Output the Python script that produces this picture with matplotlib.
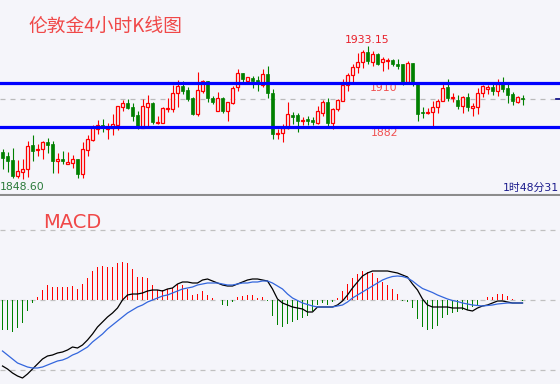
import numpy as np
import matplotlib
matplotlib.use("Agg")
import matplotlib.pyplot as plt
import matplotlib.transforms as mtransforms

plt.rcParams['font.family'] = ['DejaVu Sans', 'Noto Sans CJK SC']

# 4-hour candles, London gold
open_ = [1865.6, 1863.3, 1860.7, 1850.8, 1852.9, 1854.8, 1870.1, 1866.9, 1867.6, 1872.2,
         1870.9, 1860.4, 1861.4, 1858.0, 1858.6, 1861.4, 1851.6, 1866.9, 1873.5, 1880.3,
         1883.0, 1880.7, 1881.3, 1883.0, 1894.7, 1897.2, 1894.5, 1889.4, 1880.9, 1894.7,
         1896.8, 1884.5, 1884.5, 1893.2, 1893.0, 1903.2, 1907.8, 1905.3, 1900.4, 1890.0,
         1904.8, 1911.0, 1900.4, 1892.1, 1900.0, 1892.1, 1897.2, 1907.0, 1915.9, 1911.2,
         1913.1, 1911.7, 1908.5, 1915.5, 1903.6, 1877.3, 1877.7, 1881.3, 1889.4, 1889.4,
         1885.8, 1886.8, 1886.2, 1884.5, 1890.8, 1897.5, 1884.5, 1893.0, 1898.5, 1908.5,
         1914.8, 1920.1, 1922.9, 1929.3, 1922.9, 1928.2, 1922.9, 1923.7, 1924.4, 1921.8,
         1921.6, 1910.6, 1922.7, 1908.9, 1891.5, 1890.5, 1891.1, 1894.3, 1898.5, 1907.0,
         1900.2, 1898.9, 1895.3, 1900.7, 1894.0, 1894.7, 1903.2, 1906.1, 1907.0, 1904.8,
         1909.1, 1906.4, 1902.7, 1897.5, 1900.0]
high = [1867.7, 1866.0, 1868.2, 1860.7, 1861.4, 1872.8, 1876.6, 1870.7, 1872.8, 1874.5,
        1873.0, 1865.0, 1866.7, 1865.6, 1863.9, 1861.4, 1872.4, 1876.6, 1883.0, 1886.2,
        1886.8, 1884.5, 1890.0, 1895.1, 1898.9, 1899.4, 1897.2, 1891.9, 1899.4, 1902.1,
        1897.5, 1888.7, 1894.7, 1900.0, 1908.5, 1911.7, 1911.0, 1907.4, 1901.0, 1916.9,
        1911.7, 1911.0, 1901.7, 1903.8, 1901.0, 1897.8, 1907.8, 1918.6, 1915.9, 1913.4,
        1914.2, 1914.2, 1918.6, 1920.6, 1905.7, 1880.5, 1883.5, 1897.8, 1891.5, 1890.5,
        1888.3, 1888.7, 1888.3, 1895.1, 1898.9, 1900.0, 1894.0, 1899.4, 1912.1, 1916.3,
        1921.6, 1928.6, 1930.7, 1933.15, 1930.3, 1928.6, 1926.1, 1925.5, 1924.8, 1924.8,
        1921.6, 1923.9, 1922.7, 1909.5, 1894.7, 1893.7, 1898.5, 1899.4, 1909.9, 1912.1,
        1903.4, 1902.1, 1901.5, 1903.6, 1897.2, 1906.4, 1908.5, 1908.5, 1909.1, 1912.3,
        1913.4, 1909.1, 1903.8, 1901.5, 1902.1]
low = [1855.0, 1853.3, 1849.1, 1849.0, 1848.6, 1850.1, 1860.3, 1863.5, 1861.2, 1865.4,
       1852.3, 1852.3, 1858.2, 1858.0, 1855.8, 1849.0, 1849.2, 1863.5, 1872.8, 1877.3,
       1878.8, 1874.1, 1876.6, 1879.8, 1892.1, 1893.0, 1885.8, 1880.5, 1880.9, 1880.9,
       1883.5, 1883.5, 1884.1, 1891.1, 1891.5, 1894.7, 1902.9, 1898.3, 1889.4, 1888.9,
       1903.6, 1897.5, 1896.4, 1892.1, 1890.5, 1885.8, 1896.2, 1904.8, 1909.9, 1910.2,
       1906.8, 1904.8, 1907.4, 1900.0, 1873.9, 1873.9, 1872.4, 1880.5, 1883.5, 1878.4,
       1883.0, 1883.0, 1883.0, 1883.7, 1888.9, 1882.4, 1880.5, 1892.1, 1898.5, 1904.8,
       1909.1, 1915.9, 1919.3, 1921.8, 1920.8, 1921.2, 1917.6, 1918.6, 1920.8, 1918.6,
       1908.5, 1909.9, 1908.0, 1885.8, 1887.7, 1889.8, 1881.9, 1890.5, 1898.5, 1898.3,
       1897.6, 1893.2, 1890.8, 1892.1, 1888.9, 1890.0, 1901.0, 1902.7, 1902.1, 1901.7,
       1903.8, 1897.2, 1895.7, 1896.8, 1895.7]
close = [1862.2, 1860.3, 1850.8, 1853.7, 1855.0, 1869.8, 1866.7, 1867.7, 1872.0, 1870.5,
         1860.1, 1861.4, 1860.3, 1859.5, 1861.2, 1851.6, 1867.6, 1873.9, 1881.6, 1883.0,
         1880.9, 1881.3, 1883.5, 1895.1, 1896.8, 1893.7, 1888.7, 1881.9, 1895.1, 1896.8,
         1884.7, 1885.1, 1893.7, 1893.7, 1903.2, 1907.8, 1904.8, 1899.6, 1890.0, 1905.3,
         1911.0, 1900.4, 1897.8, 1900.0, 1892.1, 1897.5, 1906.4, 1915.9, 1912.1, 1913.4,
         1911.2, 1908.9, 1915.3, 1903.2, 1877.1, 1877.7, 1880.9, 1889.8, 1888.3, 1885.8,
         1886.2, 1885.6, 1884.7, 1891.9, 1897.5, 1884.5, 1893.2, 1898.9, 1908.5, 1914.8,
         1919.7, 1922.9, 1929.3, 1923.9, 1928.2, 1921.8, 1924.8, 1924.4, 1921.6, 1920.8,
         1910.6, 1922.3, 1908.9, 1890.0, 1890.5, 1891.1, 1894.3, 1898.5, 1906.8, 1900.4,
         1900.8, 1895.3, 1900.7, 1894.3, 1895.1, 1903.2, 1907.8, 1907.0, 1904.8, 1909.1,
         1905.9, 1902.1, 1898.5, 1900.7, 1899.4]

# MACD panel
dif = [-6.6, -6.9, -7.3, -7.6, -7.8, -7.4, -6.9, -6.4, -5.9, -5.6,
       -5.5, -5.3, -5.2, -5.0, -4.7, -4.8, -4.5, -4.0, -3.4, -2.7,
       -2.2, -1.7, -1.3, -0.8, 0.0, 0.5, 0.6, 0.6, 0.7, 0.9,
       1.0, 1.0, 0.9, 1.1, 1.2, 1.6, 1.8, 1.8, 1.7, 1.7,
       2.0, 2.1, 1.9, 1.7, 1.5, 1.4, 1.4, 1.6, 1.8, 2.0,
       2.1, 2.1, 2.0, 1.9, 1.1, 0.1, -0.3, -0.5, -0.7, -0.8,
       -0.9, -1.2, -1.2, -0.7, -0.7, -0.7, -0.7, -0.5, -0.1, 0.5,
       1.2, 1.8, 2.4, 2.7, 2.9, 2.9, 2.9, 2.9, 2.8, 2.7,
       2.5, 2.3, 1.6, 1.0, 0.1, -0.5, -0.7, -0.7, -0.7, -0.7,
       -0.8, -0.8, -0.8, -1.0, -1.1, -0.8, -0.6, -0.5, -0.3, -0.1,
       -0.1, -0.2, -0.3, -0.3, -0.3]
dea = [-5.1, -5.5, -5.9, -6.3, -6.5, -6.7, -6.8, -6.8, -6.7, -6.5,
       -6.3, -6.1, -6.0, -5.8, -5.5, -5.3, -5.0, -4.7, -4.2, -3.8,
       -3.4, -2.9, -2.5, -2.1, -1.7, -1.3, -1.0, -0.7, -0.5, -0.2,
       0.0, 0.2, 0.4, 0.5, 0.7, 0.9, 1.1, 1.2, 1.3, 1.5,
       1.6, 1.7, 1.7, 1.7, 1.6, 1.5, 1.5, 1.6, 1.7, 1.7,
       1.8, 1.8, 1.9, 1.9, 1.7, 1.4, 1.1, 0.6, 0.2, -0.05,
       -0.3, -0.45, -0.6, -0.7, -0.7, -0.7, -0.7, -0.6, -0.5, -0.2,
       0.2, 0.5, 0.8, 1.1, 1.4, 1.7, 2.0, 2.2, 2.35, 2.4,
       2.35, 2.2, 1.9, 1.5, 1.15, 0.95, 0.75, 0.5, 0.3, 0.1,
       -0.05, -0.15, -0.3, -0.4, -0.5, -0.55, -0.6, -0.55, -0.5, -0.4,
       -0.35, -0.3, -0.3, -0.3, -0.3]
hist = [-3.0, -3.0, -3.2, -2.8, -2.3, -1.1, -0.3, 0.3, 1.0, 1.5,
        1.3, 1.3, 1.3, 1.3, 1.4, 1.1, 1.6, 2.2, 2.9, 3.3,
        3.4, 3.3, 3.3, 3.7, 3.8, 3.7, 3.1, 2.3, 2.3, 2.2,
        1.5, 1.0, 1.0, 1.1, 1.2, 1.6, 1.5, 1.1, 0.5, 0.6,
        0.9, 0.5, 0.2, 0.05, -0.5, -0.6, -0.2, 0.3, 0.4, 0.5,
        0.5, 0.2, 0.3, -0.05, -1.6, -2.5, -2.7, -2.4, -2.2, -2.0,
        -1.8, -1.6, -1.1, -0.5, -0.3, -0.5, -0.2, 0.2, 0.9, 1.6,
        2.2, 2.6, 2.9, 2.8, 2.7, 2.2, 1.8, 1.5, 1.1, 0.6,
        -0.1, -0.2, -0.8, -1.9, -2.7, -3.0, -2.9, -2.6, -1.8, -1.5,
        -1.3, -1.2, -1.0, -1.0, -0.7, -0.5, 0.05, 0.3, 0.3, 0.6,
        0.6, 0.4, 0.1, 0.05, -0.07]

support = 1882
resist = 1910
top_label = "1933.15"
low_label = "1848.60"

bg = '#f5f5fa'
red = '#ff0000'
green = '#008000'

fig = plt.figure(figsize=(5.6, 3.84), dpi=100, facecolor=bg)
ax = fig.add_axes([0, 1 - 195 / 384, 1, 195 / 384], facecolor=bg)
ax2 = fig.add_axes([0, 0, 1, 188 / 384], facecolor=bg)

x = np.arange(len(close))
o = np.array(open_)
c = np.array(close)
up = c >= o

# candles
ax.vlines(x[up], np.array(low)[up], np.array(high)[up], color=red, lw=0.8, zorder=2)
ax.vlines(x[~up], np.array(low)[~up], np.array(high)[~up], color=green, lw=0.8, zorder=2)
body_h = np.maximum(np.abs(c - o), 0.5)
body_b = np.minimum(o, c)
ax.bar(x[up], body_h[up], bottom=body_b[up], width=0.6, facecolor=bg,
       edgecolor=red, linewidth=0.9, zorder=3)
ax.bar(x[~up], body_h[~up], bottom=body_b[~up], width=0.7, facecolor=green,
       edgecolor=green, linewidth=0.5, zorder=3)

ax.axhline(resist, color='#0000ff', lw=2.3, zorder=4)
ax.axhline(support, color='#0000ff', lw=2.3, zorder=4)
ax.axhline(close[-1], color='#bbbbbb', lw=0.9, ls=(0, (4, 4)), zorder=1)
trans = mtransforms.blended_transform_factory(ax.transAxes, ax.transData)
ax.plot([0.993, 1.0], [close[-1], close[-1]], color='#000080', lw=1.2, transform=trans)

ax.set_xlim(-0.5, 111.5)
ax.set_ylim(1838.47, 1962.56)
ax.set_xticks([])
ax.set_yticks([])
for s in ['top', 'left', 'right']:
    ax.spines[s].set_visible(False)
ax.spines['bottom'].set_color('#8c8c8c')
ax.spines['bottom'].set_linewidth(1.5)

ax.text(0.05, 1946.0, "伦敦金4小时K线图", transform=trans, fontsize=13.5,
        color='#f04848', family=['Noto Sans CJK SC', 'DejaVu Sans'], va='center', ha='left')
ax.text(73, 1937.2, top_label, fontsize=7.8, color='#e8202a', ha='center', va='center')
ax.text(76.2, 1906.6, str(resist), fontsize=7.8, color='#f05050', ha='center', va='center')
ax.text(76.4, 1877.8, str(support), fontsize=7.8, color='#f05050', ha='center', va='center')
ax.text(-0.6, 1843.4, low_label, fontsize=7.8, color='#2a7a3a', ha='left', va='center')
ax.text(100.1, 1843.2, "1时48分31", fontsize=7.8, color='#1a1a8c', ha='left', va='center',
        family=['DejaVu Sans', 'Noto Sans CJK SC'], clip_on=False)

# MACD
h = np.array(hist)
ax2.bar(x[h >= 0], h[h >= 0], width=0.35, color=red, zorder=3)
ax2.bar(x[h < 0], h[h < 0], width=0.35, color=green, zorder=3)
ax2.plot(x, dif, color='black', lw=0.9, zorder=4)
ax2.plot(x, dea, color='#3366dd', lw=0.9, zorder=4)
for lv in [7.0, 0.0, -7.0]:
    ax2.axhline(lv, color='#c0c0c0', lw=0.9, ls=(0, (4, 4)), zorder=1)
ax2.text(0.077, 7.8, "MACD", transform=mtransforms.blended_transform_factory(ax2.transAxes, ax2.transData),
         fontsize=14, color='#f04848', ha='left', va='center')
ax2.set_xlim(-0.5, 111.5)
ax2.set_ylim(-8.4, 10.4)
ax2.set_xticks([])
ax2.set_yticks([])
for s in ax2.spines.values():
    s.set_visible(False)

fig.savefig("out.png", dpi=100, facecolor=bg)
